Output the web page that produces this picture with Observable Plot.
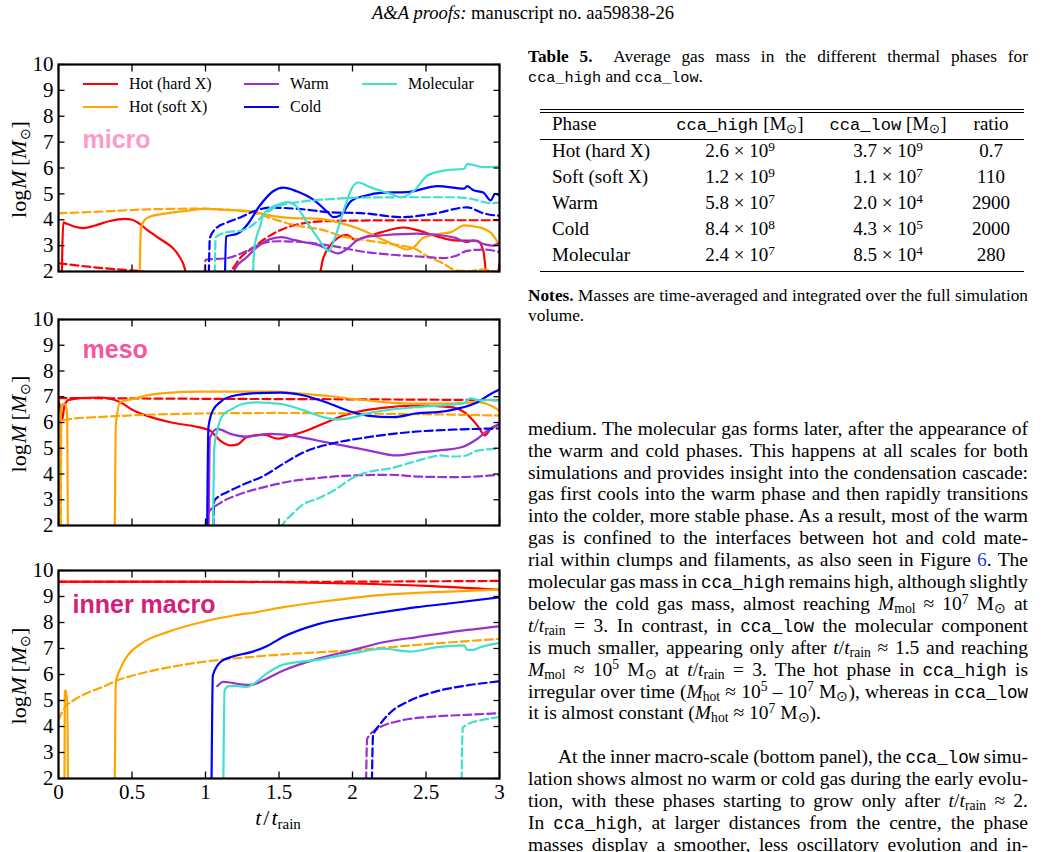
<!DOCTYPE html>
<html>
<head>
<meta charset="utf-8">
<script src="https://cdn.jsdelivr.net/npm/d3@7"></script>
<script src="https://cdn.jsdelivr.net/npm/@observablehq/plot@0.6"></script>
<style>
  html, body { margin: 0; padding: 0; background: #fff; }
  body { width: 1046px; height: 852px; position: relative; overflow: hidden;
         font-family: "Liberation Serif", "Times New Roman", serif; color: #000; }
  .ln { position: absolute; white-space: nowrap; }
  .tt { font-family: "Liberation Mono", monospace; }
  .ref { color: #1f3fd6; }
  sub, sup { font-size: 0.7em; line-height: 0; vertical-align: baseline; position: relative; }
  sup { top: -0.45em; }
  sub { top: 0.22em; }
  .rule { position: absolute; left: 540px; width: 484px; height: 0; border-top: 1.2px solid #000; }
  .panel { position: absolute; left: 0; }
</style>
</head>
<body>
<script>
// ---------- axes ----------
const xTicks = [0, 0.5, 1, 1.5, 2, 2.5, 3];
const yTicks = [2, 3, 4, 5, 6, 7, 8, 9, 10];

// ---------- phases ----------
const phaseLabels = ["Hot (hard X)", "Hot (soft X)", "Warm", "Cold", "Molecular"];
const phaseColors = ["#ff0000", "#ffa500", "#9932cc", "#0000ff", "#40e0d0"];

const panelNames = ["micro", "meso", "inner macro"];
const panelColors = ["#fc9bcb", "#f6559f", "#d4207a"];

// ---------- micro scale: [t/t_rain, log M] (high = solid, low = dashed) ----------
const microHardHigh = [[0.02,1],[0.033,3.9],[0.05,3.86],[0.1,3.75],[0.17,3.68],[0.25,3.78],[0.35,3.95],[0.45,4.03],[0.5,4.0],[0.55,3.85],[0.6,3.62],[0.66,3.38],[0.72,3.15],[0.77,2.95],[0.82,2.6],[0.86,2.1],[0.88,1.5],[1.76,1.5],[1.8,2.5],[1.84,2.95],[1.9,3.3],[1.96,3.42],[2.02,3.22],[2.1,3.35],[2.2,3.52],[2.35,3.7],[2.44,3.6],[2.58,3.35],[2.7,3.2],[2.85,3.18],[2.89,2.8],[2.92,1.5],[2.97,1.5],[3.0,2.3]];
const microHardLow = [[0,2.32],[0.15,2.22],[0.3,2.13],[0.45,2.06],[0.55,2.02],[0.65,1.9],[1.1,1.7],[1.17,2.0],[1.24,2.55],[1.33,2.94],[1.4,3.25],[1.49,3.55],[1.58,3.75],[1.71,3.9],[1.85,3.95],[2.07,3.97],[2.5,3.98],[3.0,3.98]];
const microSoftHigh = [[0.55,1],[0.56,3.6],[0.58,3.95],[0.62,4.12],[0.7,4.22],[0.85,4.33],[1.0,4.42],[1.15,4.38],[1.3,4.33],[1.45,4.15],[1.6,4.06],[1.76,4.04],[1.9,3.9],[2.03,3.68],[2.2,3.25],[2.3,3.0],[2.37,2.85],[2.42,2.95],[2.48,3.3],[2.58,3.45],[2.67,3.52],[2.76,3.78],[2.85,3.72],[2.94,3.5],[3.0,3.0]];
const microSoftLow = [[0,4.25],[0.3,4.32],[0.6,4.4],[0.95,4.43],[1.2,4.36],[1.33,4.27],[1.45,4.05],[1.6,3.8],[1.8,3.6],[1.94,3.35],[2.1,3.2],[2.33,3.0],[2.42,2.9],[2.5,2.62],[2.62,2.3],[2.71,2.03],[2.8,2.02],[2.88,2.08],[2.95,2.02],[3.0,1.9]];
const microWarmHigh = [[1.18,1],[1.2,2.1],[1.28,2.55],[1.35,2.94],[1.44,3.25],[1.52,3.33],[1.6,3.22],[1.7,3.1],[1.78,3.0],[1.85,2.8],[1.9,2.7],[1.96,2.86],[2.03,3.2],[2.1,3.35],[2.21,3.4],[2.44,3.46],[2.6,3.4],[2.7,3.3],[2.78,3.13],[2.82,3.2],[2.9,3.05],[2.95,3.0],[3.0,3.1]];
const microWarmLow = [[0.99,1],[1.0,2.45],[1.15,2.52],[1.26,2.74],[1.37,3.05],[1.49,3.17],[1.67,3.13],[1.85,3.0],[2.08,2.76],[2.26,2.65],[2.45,2.58],[2.62,2.52],[2.7,2.6],[2.78,2.8],[2.9,2.85],[3.0,2.75]];
const microColdHigh = [[1.13,1],[1.14,3.35],[1.22,3.47],[1.28,3.78],[1.37,4.55],[1.46,5.1],[1.53,5.24],[1.62,5.1],[1.74,4.75],[1.83,4.3],[1.87,4.1],[1.92,4.18],[1.99,4.72],[2.08,4.92],[2.21,5.05],[2.37,5.07],[2.58,5.3],[2.76,5.2],[2.78,5.3],[2.82,5.15],[2.89,5.05],[2.94,4.75],[2.97,5.0],[3.0,4.95]];
const microColdLow = [[1.02,1],[1.03,3.3],[1.07,3.66],[1.15,3.9],[1.24,4.1],[1.33,4.33],[1.44,4.47],[1.63,4.42],[1.85,4.29],[2.08,4.25],[2.33,4.1],[2.55,4.23],[2.78,4.48],[2.89,4.25],[3.0,4.15]];
const microMolHigh = [[1.32,1],[1.33,2.8],[1.35,3.4],[1.37,3.71],[1.39,4.16],[1.44,4.45],[1.5,4.6],[1.56,4.68],[1.62,4.5],[1.69,3.9],[1.76,3.33],[1.84,2.8],[1.88,3.3],[1.94,4.36],[2.0,5.26],[2.04,5.44],[2.12,5.26],[2.26,5.0],[2.33,4.87],[2.42,5.13],[2.51,5.71],[2.62,5.9],[2.76,5.97],[2.78,6.16],[2.89,6.03],[3.0,6.06]];
const microMolLow = [[1.06,1],[1.07,3.33],[1.15,3.52],[1.24,3.58],[1.31,3.75],[1.4,4.2],[1.49,4.52],[1.63,4.68],[1.85,4.8],[2.1,4.86],[2.4,4.87],[2.69,4.87],[2.8,4.82],[2.94,4.64],[3.0,4.66]];

// ---------- meso scale ----------
const mesoHardHigh = [[0,6.85],[0.01,6.6],[0.025,6.1],[0.04,6.65],[0.07,6.88],[0.15,6.95],[0.28,6.97],[0.42,6.79],[0.51,6.47],[0.63,6.21],[0.76,6.01],[0.95,5.82],[1.03,5.69],[1.1,5.3],[1.17,5.11],[1.22,5.15],[1.28,5.43],[1.4,5.53],[1.49,5.37],[1.58,5.5],[1.69,5.69],[1.8,5.95],[1.94,6.27],[2.08,6.47],[2.26,6.6],[2.44,6.66],[2.67,6.6],[2.76,6.4],[2.85,5.88],[2.9,5.5],[2.94,5.75],[3.0,5.92]];
const mesoHardLow = [[0,6.95],[1,6.92],[2,6.9],[3,6.87]];
const mesoSoftHigh = [[0.012,1],[0.016,6.5],[0.03,6.72],[0.045,6.7],[0.058,6.4],[0.066,1],[0.38,1],[0.39,5.88],[0.42,6.79],[0.51,6.92],[0.63,7.08],[0.74,7.15],[0.97,7.2],[1.2,7.2],[1.45,7.2],[1.65,7.12],[1.85,7.02],[2.0,6.92],[2.21,6.79],[2.44,6.73],[2.67,6.73],[2.85,6.79],[2.94,6.66],[3.0,6.45]];
const mesoSoftLow = [[0.015,1],[0.02,6.05],[0.1,6.15],[0.3,6.22],[0.6,6.3],[1.0,6.35],[1.5,6.37],[2.0,6.35],[2.5,6.32],[3.0,6.27]];
const mesoWarmHigh = [[1.02,1],[1.03,5.4],[1.08,5.75],[1.17,5.56],[1.28,5.45],[1.44,5.56],[1.58,5.5],[1.76,5.3],[1.94,5.1],[2.12,4.9],[2.3,4.72],[2.44,4.83],[2.58,4.91],[2.74,5.04],[2.85,5.37],[2.92,5.69],[3.0,5.95]];
const mesoWarmLow = [[1.01,1],[1.02,2.5],[1.1,2.87],[1.24,3.23],[1.4,3.49],[1.58,3.72],[1.76,3.84],[1.94,3.93],[2.26,3.97],[2.44,3.9],[2.7,3.88],[3.0,3.97]];
const mesoColdHigh = [[1.01,1],[1.02,5.82],[1.05,6.47],[1.1,6.79],[1.17,7.01],[1.35,7.14],[1.51,7.16],[1.67,7.05],[1.85,6.72],[1.99,6.42],[2.1,6.27],[2.28,6.21],[2.44,6.36],[2.58,6.4],[2.71,6.53],[2.85,6.79],[2.94,7.11],[3.0,7.28]];
const mesoColdLow = [[1.05,1],[1.06,2.97],[1.15,3.3],[1.26,3.6],[1.4,3.94],[1.53,4.4],[1.67,4.85],[1.85,5.17],[2.07,5.4],[2.26,5.55],[2.44,5.65],[2.67,5.72],[3.0,5.77]];
const mesoMolHigh = [[1.05,1],[1.06,5.04],[1.08,5.69],[1.12,6.3],[1.19,6.55],[1.24,6.7],[1.35,6.78],[1.51,6.72],[1.67,6.47],[1.8,6.21],[1.9,6.12],[1.99,6.18],[2.12,6.38],[2.26,6.5],[2.44,6.6],[2.67,6.69],[2.76,6.75],[2.8,6.94],[2.87,6.86],[2.94,6.88],[3.0,6.85]];
const mesoMolLow = [[1.47,1.5],[1.52,2.0],[1.6,2.5],[1.67,2.84],[1.76,3.04],[1.87,3.35],[2.03,3.94],[2.14,4.12],[2.26,4.22],[2.39,4.43],[2.53,4.65],[2.6,4.72],[2.67,4.68],[2.76,4.7],[2.85,4.91],[3.0,4.98]];

// ---------- inner macro scale ----------
const innerHardHigh = [[0,9.57],[1,9.57],[1.5,9.55],[2,9.5],[2.5,9.41],[3,9.26]];
const innerHardLow = [[0,9.56],[1,9.56],[2,9.57],[3,9.6]];
const innerSoftHigh = [[0.04,1],[0.043,5.3],[0.05,5.4],[0.055,5.0],[0.06,5.2],[0.066,1],[0.38,1],[0.39,5.7],[0.42,6.22],[0.47,6.73],[0.56,7.18],[0.74,7.63],[0.97,8.01],[1.19,8.27],[1.35,8.4],[1.53,8.59],[1.76,8.78],[1.99,8.94],[2.21,9.06],[2.44,9.14],[2.7,9.2],[3.0,9.27]];
const innerSoftLow = [[0,4.25],[0.02,4.5],[0.05,4.78],[0.1,5.0],[0.2,5.3],[0.3,5.52],[0.4,5.78],[0.5,5.95],[0.7,6.22],[1.0,6.5],[1.3,6.67],[1.6,6.8],[2.0,6.93],[2.4,7.12],[2.7,7.25],[3.0,7.37]];
const innerWarmHigh = [[1.08,5.55],[1.12,5.72],[1.18,5.68],[1.24,5.62],[1.31,5.6],[1.42,5.85],[1.53,6.15],[1.76,6.6],[1.99,6.92],[2.21,7.24],[2.44,7.44],[2.67,7.63],[3.0,7.85]];
const innerWarmLow = [[2.09,1],[2.1,3.53],[2.17,3.91],[2.33,4.23],[2.55,4.38],[2.78,4.45],[3.0,4.51]];
const innerColdHigh = [[1.04,1],[1.05,5.96],[1.1,6.47],[1.19,6.7],[1.31,6.86],[1.42,7.1],[1.53,7.45],[1.76,7.93],[1.99,8.2],[2.21,8.4],[2.44,8.59],[2.67,8.74],[3.0,8.97]];
const innerColdLow = [[2.13,1],[2.14,3.65],[2.19,4.1],[2.26,4.55],[2.37,4.94],[2.55,5.32],[2.78,5.58],[3.0,5.74]];
const innerMolHigh = [[1.12,1],[1.13,5.4],[1.16,5.55],[1.22,5.55],[1.28,5.52],[1.33,5.65],[1.42,6.05],[1.53,6.38],[1.76,6.56],[1.99,6.8],[2.21,6.99],[2.39,6.88],[2.58,7.05],[2.76,7.12],[2.78,6.95],[2.82,6.95],[2.87,7.05],[3.0,7.22]];
const innerMolLow = [[2.74,1],[2.75,3.95],[2.82,4.17],[2.88,4.25],[3.0,4.36]];

// ---------- Table 5 ----------
const tablePhases = ["Hot (hard X)", "Soft (soft X)", "Warm", "Cold", "Molecular"];
const tableHigh = [["2.6", 9], ["1.2", 9], ["5.8", 7], ["8.4", 8], ["2.4", 7]];
const tableLow = [["3.7", 9], ["1.1", 7], ["2.0", 4], ["4.3", 5], ["8.5", 4]];
const tableRatio = ["0.7", "110", "2900", "2000", "280"];

// ---------- figure panels ----------
const panelSeries = [
  [[microHardHigh, microHardLow], [microSoftHigh, microSoftLow], [microWarmHigh, microWarmLow], [microColdHigh, microColdLow], [microMolHigh, microMolLow]],
  [[mesoHardHigh, mesoHardLow], [mesoSoftHigh, mesoSoftLow], [mesoWarmHigh, mesoWarmLow], [mesoColdHigh, mesoColdLow], [mesoMolHigh, mesoMolLow]],
  [[innerHardHigh, innerHardLow], [innerSoftHigh, innerSoftLow], [innerWarmHigh, innerWarmLow], [innerColdHigh, innerColdLow], [innerMolHigh, innerMolLow]]
];
const frameTops = [64, 319, 570];
const frameHeights = [207, 206, 208];
const nameOffsets = [[24, 83], [24, 38], [14, 42]];

panelSeries.forEach((series, i) => {
  const showX = i === 2;
  const mt = 14, mb = showX ? 44 : 14;
  const lines = [];
  series.forEach(([high, low], p) => {
    const opts = {x: d => d[0], y: d => d[1], stroke: phaseColors[p], strokeWidth: 2.2, curve: "monotone-x", clip: true};
    lines.push(Plot.line(high, opts));
    lines.push(Plot.line(low, {...opts, strokeDasharray: "8,4"}));
  });
  const tick = {tickSize: 6.5, tickFormat: () => "", label: null, strokeWidth: 1.3};
  const chart = Plot.plot({
    width: 510,
    height: mt + frameHeights[i] + mb,
    marginLeft: 58, marginRight: 11, marginTop: mt, marginBottom: mb,
    style: {fontFamily: "'Liberation Serif', 'Times New Roman', serif", fontSize: "21px", overflow: "visible", background: "transparent", color: "#000"},
    x: {domain: [0, 3]},
    y: {domain: [2, 10]},
    marks: [
      ...lines,
      Plot.text([panelNames[i]], {
        frameAnchor: "top-left", textAnchor: "start", lineAnchor: "bottom",
        dx: nameOffsets[i][0], dy: nameOffsets[i][1],
        fill: panelColors[i], fontFamily: "'Liberation Sans', Arial, sans-serif", fontWeight: "bold", fontSize: 25
      }),
      Plot.axisY(yTicks, {anchor: "left", tickSize: 0, tickPadding: 5, label: null, tickFormat: d => String(d)}),
      Plot.axisY(yTicks, {anchor: "left", dx: 6.5, ...tick}),
      Plot.axisY(yTicks, {anchor: "right", dx: -6.5, ...tick}),
      Plot.axisX(xTicks, {anchor: "top", dy: 6.5, ...tick}),
      Plot.axisX(xTicks, {anchor: "bottom", dy: -6.5, ...tick}),
      showX ? Plot.axisX(xTicks, {anchor: "bottom", tickSize: 0, tickPadding: 6, label: null, tickFormat: d => String(d)}) : null,
      Plot.frame({stroke: "#000", strokeWidth: 2.2})
    ]
  });
  chart.classList.add("panel");
  chart.style.top = (frameTops[i] - mt) + "px";
  document.body.appendChild(chart);
});

// legend, axis titles
const ov = d3.select("body").append("svg")
  .attr("width", 510).attr("height", 852)
  .style("position", "absolute").style("left", "0px").style("top", "0px")
  .style("font-family", "'Liberation Serif', 'Times New Roman', serif");

const legendX = [83, 83, 244, 244, 362];
const legendY = [84, 107, 84, 107, 84];
phaseLabels.forEach((lab, p) => {
  ov.append("line").attr("x1", legendX[p]).attr("x2", legendX[p] + 35)
    .attr("y1", legendY[p]).attr("y2", legendY[p])
    .attr("stroke", phaseColors[p]).attr("stroke-width", 2.2);
  ov.append("text").attr("x", legendX[p] + 46).attr("y", legendY[p] + 5.3)
    .attr("font-size", 16).text(lab);
});

frameTops.forEach((top, i) => {
  const cy = top + frameHeights[i] / 2 + 2;
  const t = ov.append("text").attr("transform", `translate(26,${cy}) rotate(-90)`)
    .attr("text-anchor", "middle").attr("font-size", 22);
  t.append("tspan").text("log");
  t.append("tspan").attr("font-style", "italic").attr("dx", 1).text("M");
  t.append("tspan").text("\u2009[");
  t.append("tspan").attr("font-style", "italic").text("M");
  t.append("tspan").attr("font-size", 14).attr("dy", 4).text("\u2299");
  t.append("tspan").attr("dy", -4).text("]");
});

const xt = ov.append("text").attr("x", 278).attr("y", 825).attr("text-anchor", "middle").attr("font-size", 22);
xt.append("tspan").attr("font-style", "italic").text("t");
xt.append("tspan").attr("dx", 2).text("/");
xt.append("tspan").attr("dx", 2).attr("font-style", "italic").text("t");
xt.append("tspan").attr("font-size", 15).attr("dy", 4).text("rain");

// ---------- text column ----------
function line(html, {left = 528, width = 500, baseline, size = 19.5, justify = true, center = false}) {
  const d = document.createElement("div");
  d.className = "ln";
  d.style.fontSize = size + "px";
  d.style.lineHeight = (size * 1.2) + "px";
  d.style.top = (baseline - size * 0.9375) + "px";
  d.innerHTML = `<span>${html}</span>`;
  document.body.appendChild(d);
  d.style.left = left + "px";
  if (center) {
    d.style.transform = "translateX(-50%)";
    return d;
  }
  if (justify) {
    const w = d.firstChild.getBoundingClientRect().width;
    const n = (d.textContent.match(/[ \u00a0]/g) || []).length;
    if (n) d.style.wordSpacing = ((width - w) / n) + "px";
  }
  return d;
}

// running head
line(`<i>A&amp;A proofs:</i> manuscript no. aa59838-26`, {left: 523, baseline: 19, size: 18.6, center: true});

// table caption
const capSize = 17.3;
line(`<b>Table 5.</b>\u00a0 Average gas mass in the different thermal phases for`, {baseline: 63, size: capSize});
line(`<span class="tt" style="font-size:0.88em">cca_high</span> and <span class="tt" style="font-size:0.88em">cca_low</span>.`, {baseline: 83, size: capSize, justify: false});

// table rules
[109, 112, 139, 271].forEach(y => {
  const r = document.createElement("div");
  r.className = "rule";
  r.style.top = y + "px";
  document.body.appendChild(r);
});

const colHigh = 740, colLow = 888, colRatio = 991, tSize = 19;
line("Phase", {left: 552, baseline: 131, size: tSize, justify: false});
line(`<span class="tt" style="font-size:0.9em">cca_high</span> [M<sub>\u2299</sub>]`, {left: colHigh, baseline: 131, size: tSize, center: true});
line(`<span class="tt" style="font-size:0.9em">cca_low</span> [M<sub>\u2299</sub>]`, {left: colLow, baseline: 131, size: tSize, center: true});
line("ratio", {left: colRatio, baseline: 131, size: tSize, center: true});
tablePhases.forEach((ph, r) => {
  const b = 158 + 26 * r;
  line(ph, {left: 552, baseline: b, size: tSize, justify: false});
  line(`${tableHigh[r][0]} \u00d7 10<sup>${tableHigh[r][1]}</sup>`, {left: colHigh, baseline: b, size: tSize, center: true});
  line(`${tableLow[r][0]} \u00d7 10<sup>${tableLow[r][1]}</sup>`, {left: colLow, baseline: b, size: tSize, center: true});
  line(tableRatio[r], {left: colRatio, baseline: b, size: tSize, center: true});
});

line(`<b>Notes.</b> Masses are time-averaged and integrated over the full simulation`, {baseline: 302, size: capSize});
line(`volume.`, {baseline: 322, size: capSize, justify: false});

// body text
const tt = s => `<span class="tt" style="font-size:0.9em">${s}</span>`;
const ttr = `<i>t</i>/<i>t</i><sub>rain</sub>`;
const msun = `M<sub>\u2299</sub>`;
const bodyLines = [
  "medium. The molecular gas forms later, after the appearance of",
  "the warm and cold phases. This happens at all scales for both",
  "simulations and provides insight into the condensation cascade:",
  "gas first cools into the warm phase and then rapidly transitions",
  "into the colder, more stable phase. As a result, most of the warm",
  "gas is confined to the interfaces between hot and cold mate-",
  `rial within clumps and filaments, as also seen in Figure <span class="ref">6</span>. The`,
  `molecular gas mass in ${tt("cca_high")} remains high, although slightly`,
  `below the cold gas mass, almost reaching <i>M</i><sub>mol</sub> \u2248 10<sup>7</sup> ${msun} at`,
  `${ttr} = 3. In contrast, in ${tt("cca_low")} the molecular component`,
  `is much smaller, appearing only after ${ttr} \u2248 1.5 and reaching`,
  `<i>M</i><sub>mol</sub> \u2248 10<sup>5</sup> ${msun} at ${ttr} = 3. The hot phase in ${tt("cca_high")} is`,
  `irregular over time (<i>M</i><sub>hot</sub> \u2248 10<sup>5</sup> \u2013 10<sup>7</sup> ${msun}), whereas in ${tt("cca_low")}`,
  `it is almost constant (<i>M</i><sub>hot</sub> \u2248 10<sup>7</sup> ${msun}).`
];
const bodyLines2 = [
  `At the inner macro-scale (bottom panel), the ${tt("cca_low")} simu-`,
  "lation shows almost no warm or cold gas during the early evolu-",
  `tion, with these phases starting to grow only after ${ttr} \u2248 2.`,
  `In ${tt("cca_high")}, at larger distances from the centre, the phase`,
  "masses display a smoother, less oscillatory evolution and in-"
];
const lead = 21.9, firstBase = 435;
bodyLines.forEach((h, k) => {
  line(h, {baseline: firstBase + lead * k, justify: k < bodyLines.length - 1});
});
bodyLines2.forEach((h, k) => {
  const indent = k === 0 ? 30 : 0;
  line(h, {left: 528 + indent, width: 500 - indent, baseline: firstBase + lead * (15 + k)});
});
</script>
</body>
</html>
